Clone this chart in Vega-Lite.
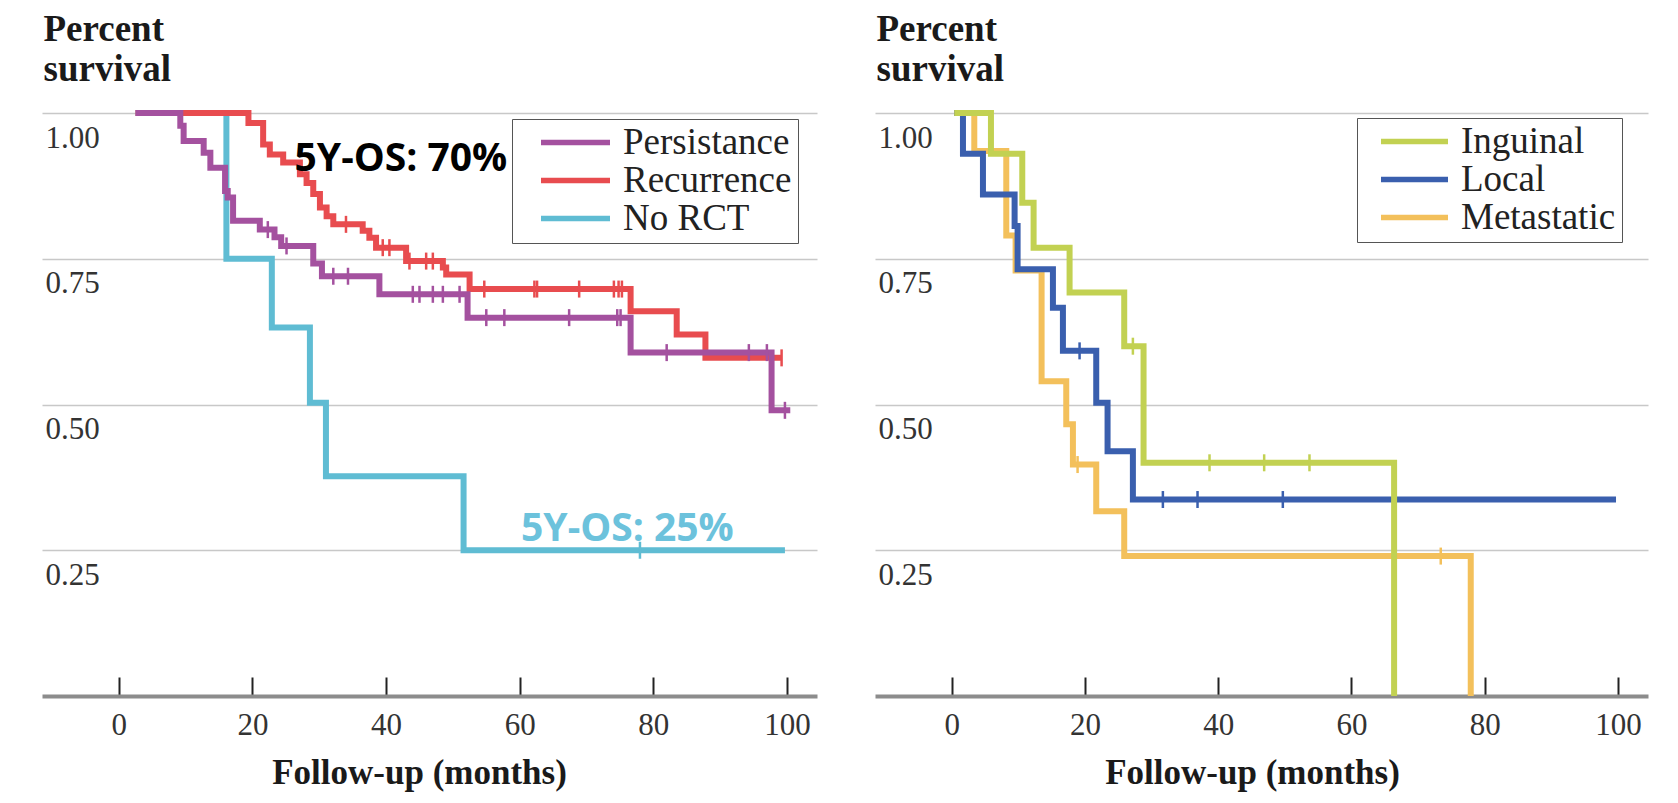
{
  "$schema": "https://vega.github.io/schema/vega-lite/v6.json",
  "padding": {"left": 42, "top": 10, "right": 20, "bottom": 5},
  "background": "white",
  "datasets": {
    "left": [
      {"group": "Persistance", "t": 2.5, "s": 1.0},
      {"group": "Persistance", "t": 9.2, "s": 0.978},
      {"group": "Persistance", "t": 9.7, "s": 0.952},
      {"group": "Persistance", "t": 12.7, "s": 0.932},
      {"group": "Persistance", "t": 13.7, "s": 0.906},
      {"group": "Persistance", "t": 15.9, "s": 0.866},
      {"group": "Persistance", "t": 16.3, "s": 0.855},
      {"group": "Persistance", "t": 17.1, "s": 0.815},
      {"group": "Persistance", "t": 21.1, "s": 0.8},
      {"group": "Persistance", "t": 23.3, "s": 0.787},
      {"group": "Persistance", "t": 24.3, "s": 0.772},
      {"group": "Persistance", "t": 29.1, "s": 0.742},
      {"group": "Persistance", "t": 30.4, "s": 0.72},
      {"group": "Persistance", "t": 39.0, "s": 0.689},
      {"group": "Persistance", "t": 52.2, "s": 0.649},
      {"group": "Persistance", "t": 76.6, "s": 0.589},
      {"group": "Persistance", "t": 97.7, "s": 0.49},
      {"group": "Persistance", "t": 100.5, "s": 0.49},
      {"group": "Recurrence", "t": 2.5, "s": 1.0},
      {"group": "Recurrence", "t": 19.4, "s": 0.983},
      {"group": "Recurrence", "t": 21.6, "s": 0.946},
      {"group": "Recurrence", "t": 22.6, "s": 0.929},
      {"group": "Recurrence", "t": 24.6, "s": 0.915},
      {"group": "Recurrence", "t": 27.1, "s": 0.895},
      {"group": "Recurrence", "t": 28.1, "s": 0.88},
      {"group": "Recurrence", "t": 29.1, "s": 0.861},
      {"group": "Recurrence", "t": 30.1, "s": 0.838},
      {"group": "Recurrence", "t": 31.1, "s": 0.823},
      {"group": "Recurrence", "t": 32.1, "s": 0.809},
      {"group": "Recurrence", "t": 36.5, "s": 0.798},
      {"group": "Recurrence", "t": 37.5, "s": 0.786},
      {"group": "Recurrence", "t": 38.5, "s": 0.769},
      {"group": "Recurrence", "t": 43.0, "s": 0.746},
      {"group": "Recurrence", "t": 48.5, "s": 0.735},
      {"group": "Recurrence", "t": 49.0, "s": 0.723},
      {"group": "Recurrence", "t": 52.5, "s": 0.698},
      {"group": "Recurrence", "t": 76.6, "s": 0.66},
      {"group": "Recurrence", "t": 83.5, "s": 0.62},
      {"group": "Recurrence", "t": 87.8, "s": 0.58},
      {"group": "Recurrence", "t": 99.2, "s": 0.58},
      {"group": "No RCT", "t": 2.5, "s": 1.0},
      {"group": "No RCT", "t": 16.1, "s": 0.75},
      {"group": "No RCT", "t": 22.9, "s": 0.632},
      {"group": "No RCT", "t": 28.6, "s": 0.503},
      {"group": "No RCT", "t": 31.0, "s": 0.377},
      {"group": "No RCT", "t": 51.6, "s": 0.25},
      {"group": "No RCT", "t": 99.7, "s": 0.25}
    ],
    "leftCensor": [
      {"group": "Persistance", "t": 22.3, "s": 0.8},
      {"group": "Persistance", "t": 25.1, "s": 0.772},
      {"group": "Persistance", "t": 32.1, "s": 0.72},
      {"group": "Persistance", "t": 34.3, "s": 0.72},
      {"group": "Persistance", "t": 44.0, "s": 0.689},
      {"group": "Persistance", "t": 45.0, "s": 0.689},
      {"group": "Persistance", "t": 47.0, "s": 0.689},
      {"group": "Persistance", "t": 48.5, "s": 0.689},
      {"group": "Persistance", "t": 51.0, "s": 0.689},
      {"group": "Persistance", "t": 55.0, "s": 0.649},
      {"group": "Persistance", "t": 57.7, "s": 0.649},
      {"group": "Persistance", "t": 67.4, "s": 0.649},
      {"group": "Persistance", "t": 74.6, "s": 0.649},
      {"group": "Persistance", "t": 75.1, "s": 0.649},
      {"group": "Persistance", "t": 82.0, "s": 0.589},
      {"group": "Persistance", "t": 94.3, "s": 0.589},
      {"group": "Persistance", "t": 97.0, "s": 0.589},
      {"group": "Persistance", "t": 99.7, "s": 0.49},
      {"group": "Recurrence", "t": 34.0, "s": 0.809},
      {"group": "Recurrence", "t": 39.5, "s": 0.769},
      {"group": "Recurrence", "t": 40.5, "s": 0.769},
      {"group": "Recurrence", "t": 43.5, "s": 0.746},
      {"group": "Recurrence", "t": 46.0, "s": 0.746},
      {"group": "Recurrence", "t": 47.0, "s": 0.746},
      {"group": "Recurrence", "t": 54.7, "s": 0.698},
      {"group": "Recurrence", "t": 62.2, "s": 0.698},
      {"group": "Recurrence", "t": 62.6, "s": 0.698},
      {"group": "Recurrence", "t": 68.9, "s": 0.698},
      {"group": "Recurrence", "t": 74.1, "s": 0.698},
      {"group": "Recurrence", "t": 74.8, "s": 0.698},
      {"group": "Recurrence", "t": 75.3, "s": 0.698},
      {"group": "Recurrence", "t": 99.2, "s": 0.58},
      {"group": "No RCT", "t": 78.0, "s": 0.25}
    ],
    "right": [
      {"group": "Inguinal", "t": 0.4, "s": 1.0},
      {"group": "Inguinal", "t": 5.9, "s": 0.93},
      {"group": "Inguinal", "t": 10.6, "s": 0.846},
      {"group": "Inguinal", "t": 12.3, "s": 0.769},
      {"group": "Inguinal", "t": 17.7, "s": 0.692},
      {"group": "Inguinal", "t": 25.9, "s": 0.6},
      {"group": "Inguinal", "t": 28.8, "s": 0.4},
      {"group": "Inguinal", "t": 66.4, "s": 0.0},
      {"group": "Local", "t": 0.4, "s": 1.0},
      {"group": "Local", "t": 1.7, "s": 0.93},
      {"group": "Local", "t": 4.7, "s": 0.86},
      {"group": "Local", "t": 9.45, "s": 0.806},
      {"group": "Local", "t": 9.9, "s": 0.732},
      {"group": "Local", "t": 15.2, "s": 0.666},
      {"group": "Local", "t": 16.7, "s": 0.592},
      {"group": "Local", "t": 21.7, "s": 0.503},
      {"group": "Local", "t": 23.4, "s": 0.42},
      {"group": "Local", "t": 27.2, "s": 0.337},
      {"group": "Local", "t": 99.7, "s": 0.337},
      {"group": "Metastatic", "t": 0.4, "s": 1.0},
      {"group": "Metastatic", "t": 3.4, "s": 0.935},
      {"group": "Metastatic", "t": 8.2, "s": 0.79},
      {"group": "Metastatic", "t": 9.6, "s": 0.73},
      {"group": "Metastatic", "t": 13.5, "s": 0.54},
      {"group": "Metastatic", "t": 17.2, "s": 0.466},
      {"group": "Metastatic", "t": 18.2, "s": 0.397},
      {"group": "Metastatic", "t": 21.7, "s": 0.317},
      {"group": "Metastatic", "t": 25.9, "s": 0.24},
      {"group": "Metastatic", "t": 77.9, "s": 0.0}
    ],
    "rightCensor": [
      {"group": "Inguinal", "t": 27.2, "s": 0.6},
      {"group": "Inguinal", "t": 38.7, "s": 0.4},
      {"group": "Inguinal", "t": 46.9, "s": 0.4},
      {"group": "Inguinal", "t": 53.7, "s": 0.4},
      {"group": "Local", "t": 19.2, "s": 0.592},
      {"group": "Local", "t": 31.7, "s": 0.337},
      {"group": "Local", "t": 36.9, "s": 0.337},
      {"group": "Local", "t": 49.7, "s": 0.337},
      {"group": "Metastatic", "t": 18.9, "s": 0.397},
      {"group": "Metastatic", "t": 73.4, "s": 0.24}
    ]
  },
  "config": {
    "view": {"stroke": null},
    "concat": {"spacing": 58},
    "axisX": {
      "domainColor": "#8c8c8c", "domainWidth": 4, "domainCap": "butt",
      "tickColor": "#222222", "tickWidth": 2, "tickSize": -19,
      "labelFont": "Liberation Serif", "labelFontSize": 31, "labelColor": "#333333",
      "labelPadding": 33, "labelBaseline": "top",
      "grid": false,
      "titleFont": "Liberation Serif", "titleFontSize": 35, "titleFontWeight": "bold", "titleColor": "#1a1a1a",
      "titleX": 377, "titleY": 87, "titleAlign": "center", "titleBaseline": "alphabetic"
    },
    "axisY": {
      "domain": false, "ticks": false,
      "grid": true, "gridColor": "#c8c8c8", "gridWidth": 1.5,
      "labelFont": "Liberation Serif", "labelFontSize": 31, "labelColor": "#333333",
      "labelAlign": "left", "labelPadding": -3, "labelOffset": 25, "labelBaseline": "middle",
      "titleFont": "Liberation Serif", "titleFontSize": 37, "titleFontWeight": "bold", "titleColor": "#1a1a1a",
      "titleAngle": 0, "titleX": 1, "titleY": -73, "titleAlign": "left", "titleBaseline": "alphabetic", "titleLineHeight": 40
    }
  },
  "resolve": {"scale": {"color": "independent"}, "legend": {"color": "independent"}},
  "hconcat": [
    {
      "width": 775,
      "height": 583,
      "encoding": {
        "x": {"field": "t", "type": "quantitative", "scale": {"domain": [-11.5, 104.5], "nice": false, "zero": false},
              "axis": {"values": [0, 20, 40, 60, 80, 100], "title": "Follow-up (months)"}},
        "y": {"field": "s", "type": "quantitative", "scale": {"domain": [0, 1], "nice": false},
              "axis": {"values": [0.25, 0.5, 0.75, 1.0], "format": ".2f", "title": ["Percent", "survival"]}},
        "color": {"field": "group", "type": "nominal",
                  "scale": {"domain": ["Persistance", "Recurrence", "No RCT"], "range": ["#a4519f", "#e84c4f", "#5fbcd3"]},
                  "legend": {"title": null, "orient": "none", "legendX": 470, "legendY": 6,
                             "strokeColor": "#555555", "fillColor": "white", "padding": 6,
                             "symbolType": "stroke", "symbolSize": 4761, "symbolStrokeWidth": 5.5, "symbolOffset": 20,
                             "labelFont": "Liberation Serif", "labelFontSize": 37, "labelColor": "#222222", "labelOffset": 10, "labelLimit": 0,
                             "clipHeight": 35, "rowPadding": 0}}
      },
      "layer": [
        {"data": {"name": "left"}, "transform": [{"filter": "datum.group == 'No RCT'"}],
         "mark": {"type": "line", "interpolate": "step-after", "strokeWidth": 6, "strokeJoin": "miter"}},
        {"data": {"name": "left"}, "transform": [{"filter": "datum.group == 'Recurrence'"}],
         "mark": {"type": "line", "interpolate": "step-after", "strokeWidth": 6, "strokeJoin": "miter"}},
        {"data": {"name": "left"}, "transform": [{"filter": "datum.group == 'Persistance'"}],
         "mark": {"type": "line", "interpolate": "step-after", "strokeWidth": 6, "strokeJoin": "miter"}},
        {"data": {"name": "leftCensor"},
         "mark": {"type": "tick", "orient": "vertical", "size": 17, "thickness": 2.5, "opacity": 1}},
        {"data": {"values": [{"t": 26.3, "s": 0.9, "label": "5Y-OS: 70%"}]},
         "mark": {"type": "text", "font": "Open Sans", "fontWeight": "bold", "fontSize": 39, "align": "left", "baseline": "alphabetic"},
         "encoding": {"text": {"field": "label"}, "color": {"value": "#000000"}}},
        {"data": {"values": [{"t": 60.2, "s": 0.266, "label": "5Y-OS: 25%"}]},
         "mark": {"type": "text", "font": "Open Sans", "fontWeight": "bold", "fontSize": 39, "align": "left", "baseline": "alphabetic"},
         "encoding": {"text": {"field": "label"}, "color": {"value": "#6cc2dc"}}}
      ]
    },
    {
      "width": 773,
      "height": 583,
      "encoding": {
        "x": {"field": "t", "type": "quantitative", "scale": {"domain": [-11.5, 104.5], "nice": false, "zero": false},
              "axis": {"values": [0, 20, 40, 60, 80, 100], "title": "Follow-up (months)"}},
        "y": {"field": "s", "type": "quantitative", "scale": {"domain": [0, 1], "nice": false},
              "axis": {"values": [0.25, 0.5, 0.75, 1.0], "format": ".2f", "title": ["Percent", "survival"]}},
        "color": {"field": "group", "type": "nominal",
                  "scale": {"domain": ["Inguinal", "Local", "Metastatic"], "range": ["#c2d152", "#3a5fae", "#f3c05b"]},
                  "legend": {"title": null, "orient": "none", "legendX": 482, "legendY": 5,
                             "strokeColor": "#555555", "fillColor": "white", "padding": 6,
                             "symbolType": "stroke", "symbolSize": 4489, "symbolStrokeWidth": 5.5, "symbolOffset": 15,
                             "labelFont": "Liberation Serif", "labelFontSize": 37, "labelColor": "#222222", "labelOffset": 10, "labelLimit": 0,
                             "clipHeight": 35, "rowPadding": 0}}
      },
      "layer": [
        {"data": {"name": "right"}, "transform": [{"filter": "datum.group == 'Metastatic'"}],
         "mark": {"type": "line", "interpolate": "step-after", "strokeWidth": 6, "strokeJoin": "miter"}},
        {"data": {"name": "right"}, "transform": [{"filter": "datum.group == 'Local'"}],
         "mark": {"type": "line", "interpolate": "step-after", "strokeWidth": 6, "strokeJoin": "miter"}},
        {"data": {"name": "right"}, "transform": [{"filter": "datum.group == 'Inguinal'"}],
         "mark": {"type": "line", "interpolate": "step-after", "strokeWidth": 6, "strokeJoin": "miter"}},
        {"data": {"name": "rightCensor"},
         "mark": {"type": "tick", "orient": "vertical", "size": 17, "thickness": 2.5, "opacity": 1}}
      ]
    }
  ]
}
